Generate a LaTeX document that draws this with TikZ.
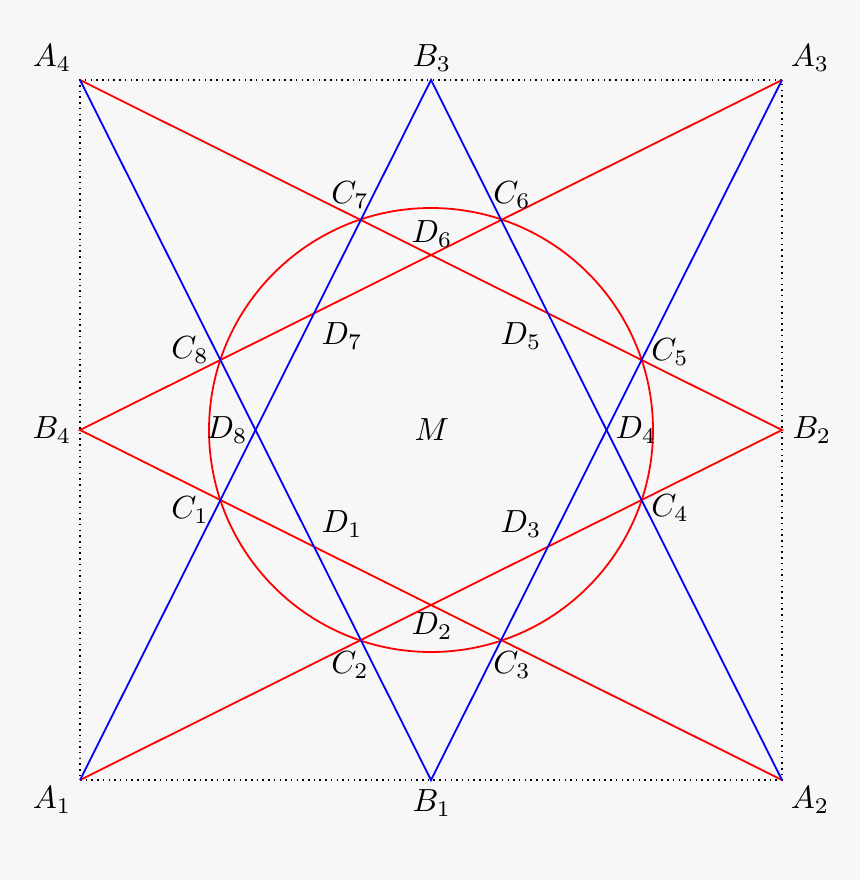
\documentclass[tikz,border=0pt]{standalone}
\definecolor{bg}{HTML}{F7F7F7}
\begin{document}
\begin{tikzpicture}[x=1pt,y=-1pt,
  lbl/.style={scale=3.2, inner sep=0pt},
  redline/.style={draw=red, line width=1.8pt},
  blueline/.style={draw=blue, line width=1.8pt},
  frame/.style={draw=black, line width=1.5pt, dash pattern=on 1.5pt off 4.2pt}]
\fill[bg] (0,0) rectangle (860,880);
\useasboundingbox (0,0) rectangle (860,880);
% points
\coordinate (A1) at (80,780);
\coordinate (A2) at (782,780);
\coordinate (A3) at (782,80);
\coordinate (A4) at (80,80);
\coordinate (B1) at (431,780);
\coordinate (B2) at (782,430);
\coordinate (B3) at (431,80);
\coordinate (B4) at (80,430);
\coordinate (M) at (431,430);
% frame
\draw[frame] (A1) -- (A2) -- (A3) -- (A4) -- cycle;
% circle
\draw[redline] (M) circle[radius=222];
% red lines
\draw[redline] (A4) -- (B2) -- (A1);
\draw[redline] (A3) -- (B4) -- (A2);
% blue lines
\draw[blueline] (A4) -- (B1) -- (A3);
\draw[blueline] (A1) -- (B3) -- (A2);
% labels
\node[lbl] (lA1) at (52,800) {$A_1$};
\node[lbl] (lA2) at (810,800) {$A_2$};
\node[lbl] (lA3) at (810,58) {$A_3$};
\node[lbl] (lA4) at (52,58) {$A_4$};
\node[lbl] (lB1) at (432,803) {$B_1$};
\node[lbl] (lB2) at (812,430) {$B_2$};
\node[lbl] (lB3) at (432,58) {$B_3$};
\node[lbl] (lB4) at (52,430) {$B_4$};
\node[lbl] (lM) at (432,430) {$M$};
\node[lbl] (lC1) at (190,510) {$C_1$};
\node[lbl] (lC2) at (350,665) {$C_2$};
\node[lbl] (lC3) at (512,665) {$C_3$};
\node[lbl] (lC4) at (670,508) {$C_4$};
\node[lbl] (lC5) at (670,352) {$C_5$};
\node[lbl] (lC6) at (512,195) {$C_6$};
\node[lbl] (lC7) at (350,195) {$C_7$};
\node[lbl] (lC8) at (190,350) {$C_8$};
\node[lbl] (lD1) at (342,524) {$D_1$};
\node[lbl] (lD2) at (432,626) {$D_2$};
\node[lbl] (lD3) at (521,524) {$D_3$};
\node[lbl] (lD4) at (636,430) {$D_4$};
\node[lbl] (lD5) at (521,336) {$D_5$};
\node[lbl] (lD6) at (432,234) {$D_6$};
\node[lbl] (lD7) at (342,336) {$D_7$};
\node[lbl] (lD8) at (227,430) {$D_8$};
\end{tikzpicture}
\end{document}
